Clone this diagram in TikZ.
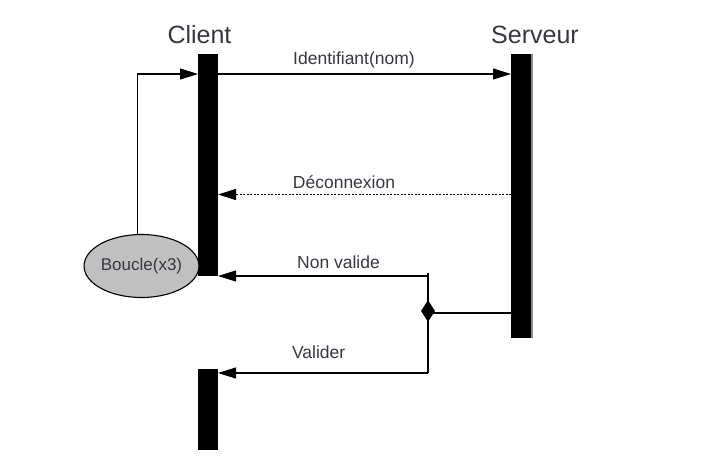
\documentclass[tikz,border=0pt]{standalone}
\usepackage{fontspec}
\setmainfont{Liberation Sans}
\usetikzlibrary{arrows.meta,shapes.geometric}
\definecolor{txt}{RGB}{55,55,65}
\definecolor{loopgray}{RGB}{192,192,192}
\definecolor{edgegray}{RGB}{140,140,140}
\tikzset{
  bar/.style={fill=black,draw=none,minimum width=20pt,inner sep=0pt,outer sep=0pt},
  msg/.style={line width=1.1pt,-{Triangle[length=18pt,width=11pt]}},
  conn/.style={line width=1.1pt},
  small/.style={text=txt,font=\fontsize{17.5}{20}\selectfont,anchor=base,inner sep=0pt},
  title/.style={text=txt,font=\fontsize{25}{29}\selectfont,anchor=base,inner sep=0pt}
}
\begin{document}
\begin{tikzpicture}[x=1pt,y=-1pt]
\useasboundingbox (0,0) rectangle (702,474);
% lifelines
\node[bar,minimum height=222pt] (c1) at (208,165) {};
\node[bar,minimum height=81pt] (c2) at (208,409.5) {};
\node[bar,minimum height=284pt] (s) at (521,196) {};
\draw[edgegray,line width=1.3pt] (s.north east) ++(1,0) coordinate (sg1) -- (sg1 |- s.south) ;
% titles
\node[title] (tc) at (199.5,43.3) {Client};
\node[title] (ts) at (535,43) {Serveur};
% loop ellipse
\node[ellipse,draw,line width=1.1pt,fill=loopgray,minimum width=105pt,minimum height=63pt,inner sep=0pt,
      text=txt,font=\fontsize{17}{20}\selectfont] (loop) at (141.5,266) {Boucle(x3)};
% helper coordinates
\coordinate (y1) at (0,74);
\coordinate (y2) at (0,194.5);
\coordinate (nv) at (428,276);
\coordinate (top) at (428,272.5);
\coordinate (va) at (428,373);
\coordinate (y3) at (0,313);
% messages
\draw[msg] (loop.97) |- (c1.west |- y1);
\draw[msg] (c1.east |- y1) -- (s.west |- y1);
\draw[msg,dash pattern=on 2pt off 1.5pt] (s.west |- y2) -- (c1.east |- y2);
\draw[conn] (top) -- (va);
\draw[msg] (nv) -- (c1.east |- nv);
\draw[msg] (va) -- (c2.east |- va);
\draw[conn] (s.west |- y3) -- (va |- y3);
\node[diamond,fill=black,draw=none,inner sep=0pt,aspect=0.6,minimum width=14pt,minimum height=22pt] (dia) at (428,311) {};
% labels
\node[small] (l1) at (354,64.3) {Identifiant(nom)};
\node[small] (l2) at (344,188.3) {Déconnexion};
\node[small] (l3) at (338.5,268) {Non valide};
\node[small] (l4) at (318.7,358) {Valider};
\end{tikzpicture}
\end{document}
